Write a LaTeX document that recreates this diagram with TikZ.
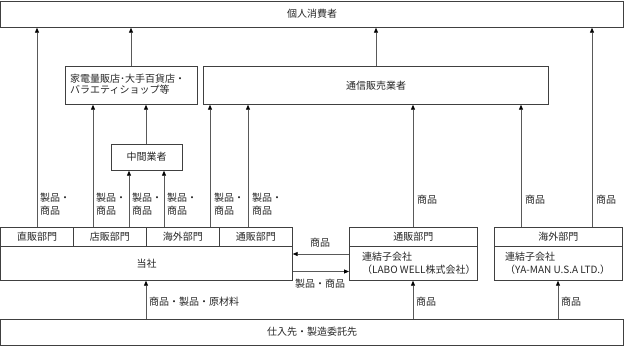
\documentclass[tikz,border=0pt]{standalone}
\usepackage{fontspec}
\setmainfont{Noto Sans CJK JP}
\usetikzlibrary{arrows.meta}
\begin{document}
\begin{tikzpicture}[x=1pt,y=-1pt,
  box/.style={draw=black!75,line width=0.7pt,inner sep=0pt,anchor=north west,font=\fontsize{10}{13}\selectfont},
  arr/.style={draw=black!65,line width=0.8pt,-{Triangle[length=5pt,width=4pt,color=black]}},
  lbl/.style={inner sep=0pt,font=\fontsize{10}{13}\selectfont,align=left},
  every node/.style={text=black!85}]
\useasboundingbox (0,0) rectangle (624,346);
% boxes
\node[box,minimum width=622pt,minimum height=26.5pt] (cons) at (0.5,0.5) {};
\node[lbl] at (312,14) {個人消費者};
\node[box,minimum width=132pt,minimum height=38pt] (retail) at (65,66) {};
\node[lbl,anchor=north west,font=\fontsize{10}{11}\selectfont] at (70,74) {家電量販店･大手百貨店・\\バラエティショップ等};
\node[box,minimum width=345pt,minimum height=38pt] (mail) at (203,66) {};
\node[lbl] at (376,86) {通信販売業者};
\node[box,minimum width=71pt,minimum height=26pt] (mid) at (111,144) {};
\node[lbl] at (146.5,157) {中間業者};
% company
\node[box,minimum width=72.5pt,minimum height=19pt] (d1) at (0.5,227) {};
\node[lbl] at (d1) {直販部門};
\node[box,minimum width=73pt,minimum height=19pt] (d2) at (73,227) {};
\node[lbl] at (d2) {店販部門};
\node[box,minimum width=73pt,minimum height=19pt] (d3) at (146,227) {};
\node[lbl] at (d3) {海外部門};
\node[box,minimum width=73pt,minimum height=19pt] (d4) at (219,227) {};
\node[lbl] at (d4) {通販部門};
\node[box,minimum width=291.5pt,minimum height=34pt] (co) at (0.5,246) {};
\node[lbl] at (co) {当社};
% subsidiaries
\node[box,minimum width=128pt,minimum height=19pt] (s1t) at (349,227) {};
\node[lbl] at (s1t) {通販部門};
\node[box,minimum width=128pt,minimum height=34pt] (s1) at (349,246) {};
\node[lbl,anchor=north west] at (362,252) {連結子会社\\（LABO WELL株式会社）};
\node[box,minimum width=128pt,minimum height=19pt] (s2t) at (494,227) {};
\node[lbl] at (s2t) {海外部門};
\node[box,minimum width=128pt,minimum height=34pt] (s2) at (494,246) {};
\node[lbl,anchor=north west] at (505,252) {連結子会社\\（YA-MAN U.S.A LTD.）};
% suppliers
\node[box,minimum width=622pt,minimum height=26pt] (sup) at (0.5,319) {};
\node[lbl] at (312,332) {仕入先・製造委託先};
% arrows from departments
\draw[arr] (d1.north -| 37,0) -- (cons.south -| 37,0);
\draw[arr] (d2.north -| 93,0) -- (retail.south -| 93,0);
\draw[arr] (d2.north -| 129,0) -- (mid.south -| 129,0);
\draw[arr] (d3.north -| 164,0) -- (mid.south -| 164,0);
\draw[arr] (d3.north -| 210,0) -- (mail.south -| 210,0);
\draw[arr] (d4.north -| 248,0) -- (mail.south -| 248,0);
\draw[arr] (mid.north -| 146,0) -- (retail.south -| 146,0);
\draw[arr] (retail.north -| 131,0) -- (cons.south -| 131,0);
\draw[arr] (mail.north -| 376,0) -- (cons.south -| 376,0);
\draw[arr] (s1t.north -| 413,0) -- (mail.south -| 413,0);
\draw[arr] (s2t.north -| 521,0) -- (mail.south -| 521,0);
\draw[arr] (s2t.north -| 592,0) -- (cons.south -| 592,0);
\draw[arr] (s1.west |- 0,254) -- (co.east |- 0,254);
\draw[arr] (co.east |- 0,271.5) -- (s1.west |- 0,271.5);
\draw[arr] (sup.north -| 146,0) -- (co.south -| 146,0);
\draw[arr] (sup.north -| 413,0) -- (s1.south -| 413,0);
\draw[arr] (sup.north -| 558,0) -- (s2.south -| 558,0);
% labels
\foreach \x in {40,96,132,167,214,252} {\node[lbl,anchor=north west] at (\x,193) {製品・\\商品};}
\node[lbl,anchor=west] at (417,200) {商品};
\node[lbl,anchor=west] at (525,200) {商品};
\node[lbl,anchor=west] at (596,200) {商品};
\node[lbl] at (320,243) {商品};
\node[lbl] at (320,284) {製品・商品};
\node[lbl,anchor=west] at (149,302) {商品・製品・原材料};
\node[lbl,anchor=west] at (416,302) {商品};
\node[lbl,anchor=west] at (561,302) {商品};
\end{tikzpicture}
\end{document}
